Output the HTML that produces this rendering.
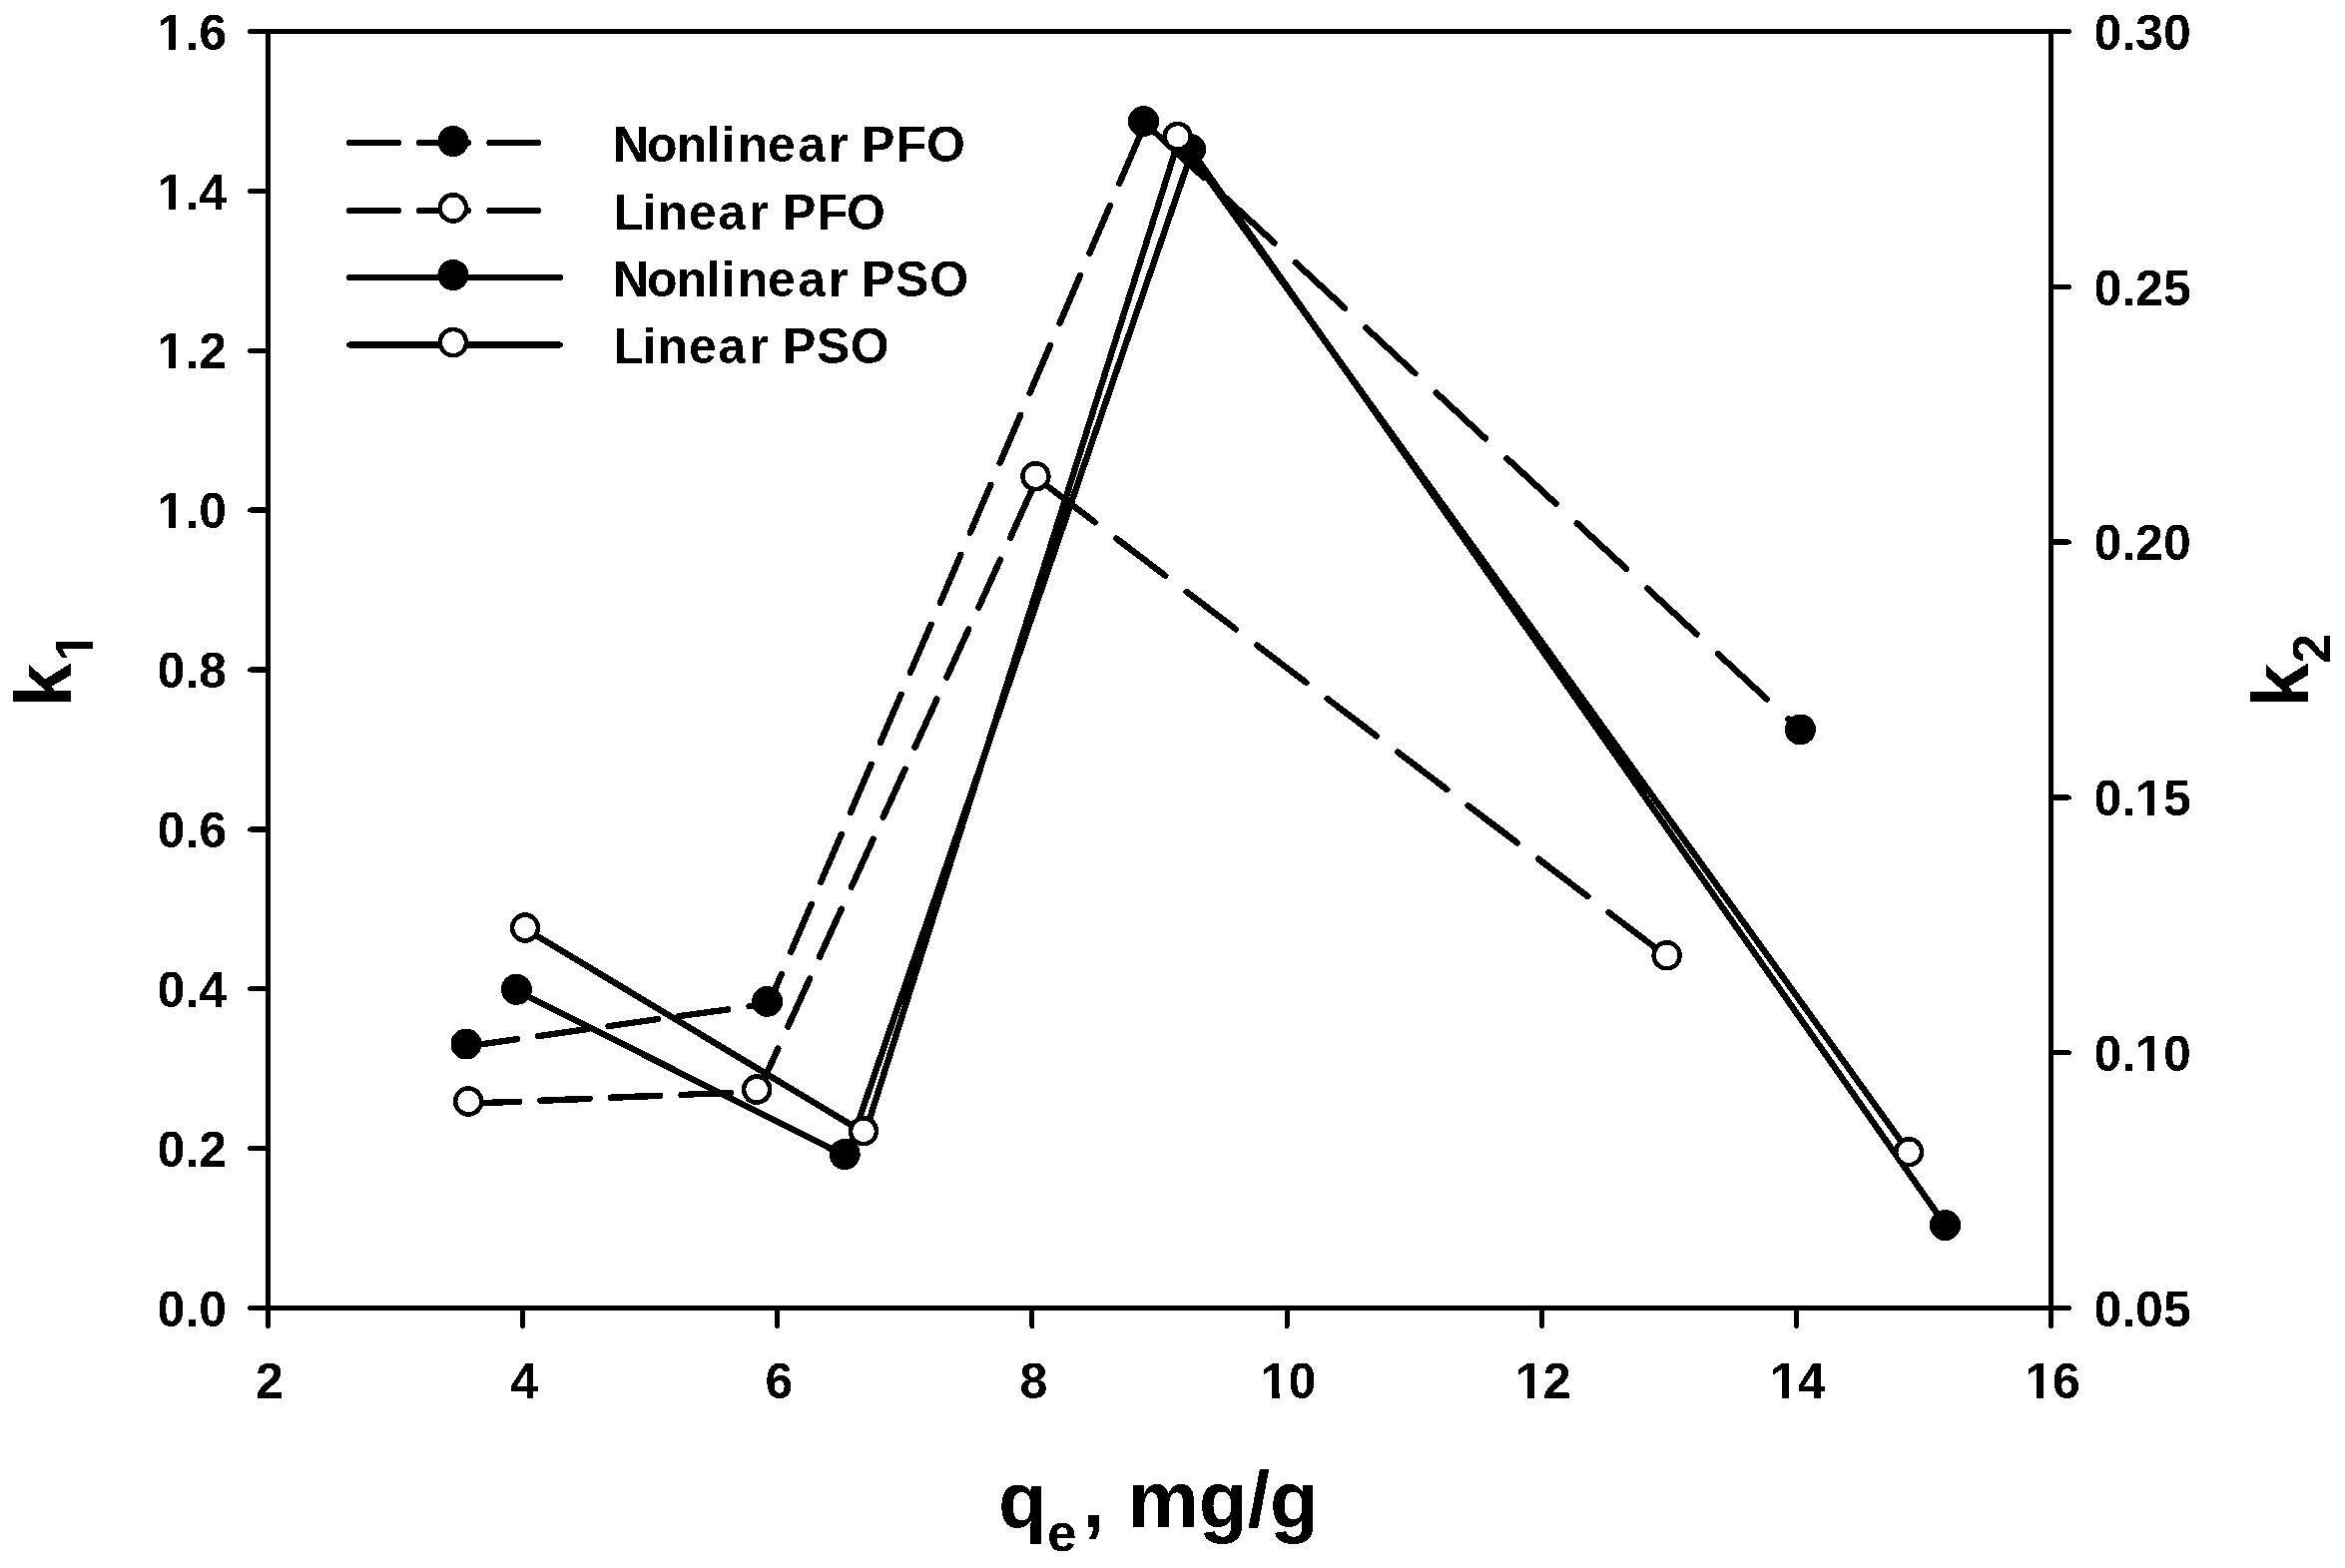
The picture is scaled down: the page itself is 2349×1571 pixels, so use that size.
<!DOCTYPE html>
<html lang="en"><head><meta charset="utf-8"><title>k1 and k2 versus qe</title>
<style>
html,body{margin:0;padding:0;background:#fff;}
body{width:2349px;height:1571px;overflow:hidden;}
svg{display:block;}
text{font-family:"Liberation Sans",Arial,Helvetica,sans-serif;font-weight:bold;fill:#000;}
.tk{font-size:50px;}
.ttl{font-size:80px;}
.sub{font-size:53px;}
.ax{stroke:#000;stroke-width:5;fill:none;stroke-linecap:round;}
.ln{stroke:#000;stroke-width:6.4;fill:none;stroke-linecap:round;stroke-linejoin:round;}
.lg{stroke-width:6;}
.mf{fill:#000;stroke:none;}
.cv{fill:#fff;stroke:none;}
.mo{fill:#fff;stroke:#000;stroke-width:4.55;}
</style></head><body>
<svg width="2349" height="1571" viewBox="0 0 2349 1571">
<defs><filter id="bw" x="0" y="0" width="2349" height="1571" filterUnits="userSpaceOnUse" color-interpolation-filters="sRGB"><feComponentTransfer><feFuncR type="discrete" tableValues="0 1"/><feFuncG type="discrete" tableValues="0 1"/><feFuncB type="discrete" tableValues="0 1"/></feComponentTransfer></filter></defs>
<g filter="url(#bw)">
<rect x="0" y="0" width="2349" height="1571" fill="#fff"/>
<g class="ax">
<rect x="268.5" y="31.5" width="1786" height="1279" stroke-linejoin="miter"/>
<line x1="250.5" y1="1310.50" x2="268.5" y2="1310.50"/>
<line x1="250.5" y1="1150.62" x2="268.5" y2="1150.62"/>
<line x1="250.5" y1="990.75" x2="268.5" y2="990.75"/>
<line x1="250.5" y1="830.88" x2="268.5" y2="830.88"/>
<line x1="250.5" y1="671.00" x2="268.5" y2="671.00"/>
<line x1="250.5" y1="511.12" x2="268.5" y2="511.12"/>
<line x1="250.5" y1="351.25" x2="268.5" y2="351.25"/>
<line x1="250.5" y1="191.38" x2="268.5" y2="191.38"/>
<line x1="250.5" y1="31.50" x2="268.5" y2="31.50"/>
<line x1="2054.5" y1="1310.50" x2="2072.5" y2="1310.50"/>
<line x1="2054.5" y1="1054.70" x2="2072.5" y2="1054.70"/>
<line x1="2054.5" y1="798.90" x2="2072.5" y2="798.90"/>
<line x1="2054.5" y1="543.10" x2="2072.5" y2="543.10"/>
<line x1="2054.5" y1="287.30" x2="2072.5" y2="287.30"/>
<line x1="2054.5" y1="31.50" x2="2072.5" y2="31.50"/>
<line x1="268.50" y1="1310.5" x2="268.50" y2="1328.5"/>
<line x1="523.64" y1="1310.5" x2="523.64" y2="1328.5"/>
<line x1="778.79" y1="1310.5" x2="778.79" y2="1328.5"/>
<line x1="1033.93" y1="1310.5" x2="1033.93" y2="1328.5"/>
<line x1="1289.07" y1="1310.5" x2="1289.07" y2="1328.5"/>
<line x1="1544.21" y1="1310.5" x2="1544.21" y2="1328.5"/>
<line x1="1799.36" y1="1310.5" x2="1799.36" y2="1328.5"/>
<line x1="2054.50" y1="1310.5" x2="2054.50" y2="1328.5"/>
</g>
<g class="tk">
<text x="227" y="1328.70" text-anchor="end">0.0</text>
<text x="227" y="1168.83" text-anchor="end">0.2</text>
<text x="227" y="1008.95" text-anchor="end">0.4</text>
<text x="227" y="849.08" text-anchor="end">0.6</text>
<text x="227" y="689.20" text-anchor="end">0.8</text>
<text x="227" y="529.33" text-anchor="end">1.0</text><rect class="cv" x="159.93" y="524.08" width="9.23" height="5.74"/><rect class="cv" x="176.32" y="524.08" width="8.57" height="5.74"/>
<text x="227" y="369.45" text-anchor="end">1.2</text><rect class="cv" x="159.93" y="364.20" width="9.23" height="5.74"/><rect class="cv" x="176.32" y="364.20" width="8.57" height="5.74"/>
<text x="227" y="209.57" text-anchor="end">1.4</text><rect class="cv" x="159.93" y="204.33" width="9.23" height="5.74"/><rect class="cv" x="176.32" y="204.33" width="8.57" height="5.74"/>
<text x="227" y="49.70" text-anchor="end">1.6</text><rect class="cv" x="159.93" y="44.45" width="9.23" height="5.74"/><rect class="cv" x="176.32" y="44.45" width="8.57" height="5.74"/>
<text x="2097.4" y="1328.70">0.05</text>
<text x="2097.4" y="1072.90">0.10</text><rect class="cv" x="2141.54" y="1067.65" width="9.23" height="5.74"/><rect class="cv" x="2157.93" y="1067.65" width="8.57" height="5.74"/>
<text x="2097.4" y="817.10">0.15</text><rect class="cv" x="2141.54" y="811.85" width="9.23" height="5.74"/><rect class="cv" x="2157.93" y="811.85" width="8.57" height="5.74"/>
<text x="2097.4" y="561.30">0.20</text>
<text x="2097.4" y="305.50">0.25</text>
<text x="2097.4" y="49.70">0.30</text>
<text x="270.00" y="1401.2" text-anchor="middle">2</text>
<text x="525.14" y="1401.2" text-anchor="middle">4</text>
<text x="780.29" y="1401.2" text-anchor="middle">6</text>
<text x="1035.43" y="1401.2" text-anchor="middle">8</text>
<text x="1290.57" y="1401.2" text-anchor="middle">10</text><rect class="cv" x="1265.21" y="1395.95" width="9.23" height="5.74"/><rect class="cv" x="1281.59" y="1395.95" width="8.57" height="5.74"/>
<text x="1545.71" y="1401.2" text-anchor="middle">12</text><rect class="cv" x="1520.35" y="1395.95" width="9.23" height="5.74"/><rect class="cv" x="1536.74" y="1395.95" width="8.57" height="5.74"/>
<text x="1800.86" y="1401.2" text-anchor="middle">14</text><rect class="cv" x="1775.49" y="1395.95" width="9.23" height="5.74"/><rect class="cv" x="1791.88" y="1395.95" width="8.57" height="5.74"/>
<text x="2056.00" y="1401.2" text-anchor="middle">16</text><rect class="cv" x="2030.63" y="1395.95" width="9.23" height="5.74"/><rect class="cv" x="2047.02" y="1395.95" width="8.57" height="5.74"/>
</g>
<path class="ln" d="M468.6 1048.1L517.8 1041.2M539.1 1038.1L588.3 1031.2M609.6 1028.2L658.8 1021.2M680.1 1018.2L729.3 1011.3M750.6 1008.3L770.2 1005.5M770.2 1005.5L782.9 975.7M792.3 953.8L812.8 905.7M822.2 883.8L842.8 835.7M852.1 813.8L872.7 765.7M882.0 743.8L902.6 695.7M911.9 673.8L932.5 625.7M941.9 603.8L962.4 555.7M971.8 533.8L992.3 485.7M1001.7 463.8L1022.2 415.7M1031.6 393.8L1052.1 345.7M1061.5 323.8L1082.1 275.7M1091.4 253.8L1112.0 205.7M1121.3 183.8L1141.9 135.7M1156.8 132.5L1206.0 178.1M1227.3 197.8L1276.5 243.4M1297.8 263.1L1347.0 308.7M1368.3 328.4L1417.5 374.0M1438.8 393.7L1488.0 439.3M1509.3 459.1L1558.5 504.6M1579.8 524.4L1629.0 569.9M1650.3 589.7L1699.5 635.3M1720.8 655.0L1770.0 700.6M1791.3 720.3L1805.0 733.0"/>
<circle class="mf" cx="467.0" cy="1046.0" r="15.5"/>
<circle class="mf" cx="768.6" cy="1003.4" r="15.5"/>
<circle class="mf" cx="1145.5" cy="121.4" r="15.5"/>
<circle class="mf" cx="1803.4" cy="730.9" r="15.5"/>
<path class="ln" d="M471.0 1105.6L520.2 1103.6M541.5 1102.7L590.7 1100.7M612.0 1099.8L661.2 1097.8M682.5 1096.9L731.7 1094.9M753.0 1094.0L759.7 1093.7M759.7 1093.7L779.3 1050.6M789.2 1028.7L811.1 980.6M821.0 958.7L842.9 910.6M852.9 888.7L874.7 840.6M884.7 818.7L906.6 770.6M916.5 748.7L938.4 700.6M948.3 678.7L970.2 630.6M980.2 608.7L1002.0 560.6M1012.0 538.7L1033.8 490.6M1047.6 485.8L1096.8 523.2M1118.1 539.4L1167.3 576.7M1188.6 592.9L1237.8 630.3M1259.1 646.5L1308.3 683.8M1329.6 700.0L1378.8 737.4M1400.1 753.5L1449.3 790.9M1470.6 807.1L1519.8 844.4M1541.1 860.6L1590.3 898.0M1611.6 914.2L1660.8 951.5"/>
<circle class="mo" cx="469.2" cy="1103.5" r="13" stroke-width="4.35"/>
<circle class="mo" cx="758.1" cy="1091.6" r="13" stroke-width="4.35"/>
<circle class="mo" cx="1037.4" cy="477.2" r="13" stroke-width="4.35"/>
<circle class="mo" cx="1669.6" cy="957.3" r="13" stroke-width="4.35"/>
<polyline class="ln" points="519.0,993.4 847.8,1158.6 1194.1,151.6 1950.1,1229.6"/>
<circle class="mf" cx="517.4" cy="991.3" r="15.5"/>
<circle class="mf" cx="846.2" cy="1156.5" r="15.5"/>
<circle class="mf" cx="1192.5" cy="149.5" r="15.5"/>
<circle class="mf" cx="1948.5" cy="1227.5" r="15.5"/>
<polyline class="ln" points="527.6,931.6 866.6,1135.4 1181.2,138.9 1913.7,1156.3"/>
<circle class="mo" cx="526.0" cy="929.5" r="12.9" stroke-width="3.9"/>
<circle class="mo" cx="865.0" cy="1133.3" r="12.9" stroke-width="3.9"/>
<circle class="mo" cx="1179.6" cy="136.8" r="12.9" stroke-width="3.9"/>
<circle class="mo" cx="1912.1" cy="1154.2" r="12.9" stroke-width="3.9"/>
<path class="ln lg" d="M350.0 143.0L399.2 143.0M420.1 143.0L469.3 143.0M490.2 143.0L539.4 143.0"/>
<circle class="mf" cx="453.9" cy="141.5" r="15.5"/>
<text class="tk" x="614.1 648.1 677.7 707.2 723.1 739 769.1 799.3 830 849.4 863.1 897.5 928.1" y="161.8">Nonlinear PFO</text>
<path class="ln lg" d="M350.0 210.9L399.2 210.9M420.1 210.9L469.3 210.9M490.2 210.9L539.4 210.9"/>
<circle class="mo" cx="453.9" cy="208.4" r="13.1"/>
<text class="tk" x="614.5 643.5 658.5 690.1 719.3 750.2 770 784 818.4 847.9" y="229.7">Linear PFO</text>
<line class="ln lg" x1="350" y1="277.9" x2="561" y2="277.9"/>
<circle class="mf" cx="453.9" cy="275.5" r="15.5"/>
<text class="tk" x="614.1 648.1 677.7 707.2 723.1 739 769.1 799.3 830 849.4 863.1 896.9 931.3" y="296.7">Nonlinear PSO</text>
<line class="ln lg" x1="350" y1="345.4" x2="561" y2="345.4"/>
<circle class="mo" cx="453.9" cy="343" r="13.1"/>
<text class="tk" x="614.5 643.5 658.5 690.1 719.3 750.2 770 784 817.9 851.7" y="363.7">Linear PSO</text>
<g transform="translate(71,709) rotate(-90)"><text class="ttl">k<tspan class="sub" dx="1.8" dy="22">1</tspan></text><rect class="cv" x="48.88" y="16.44" width="9.78" height="6.08"/><rect class="cv" x="66.23" y="16.44" width="9.08" height="6.08"/></g>
<text class="ttl" transform="translate(2312,709) rotate(-90)">k<tspan class="sub" dy="22">2</tspan></text>
<text class="ttl" x="1000" y="1529.8">q<tspan class="sub" dy="24">e</tspan><tspan dy="-24" x="1084.4">, </tspan><tspan x="1129.7">mg/g</tspan></text>
</g>
</svg></body></html>
